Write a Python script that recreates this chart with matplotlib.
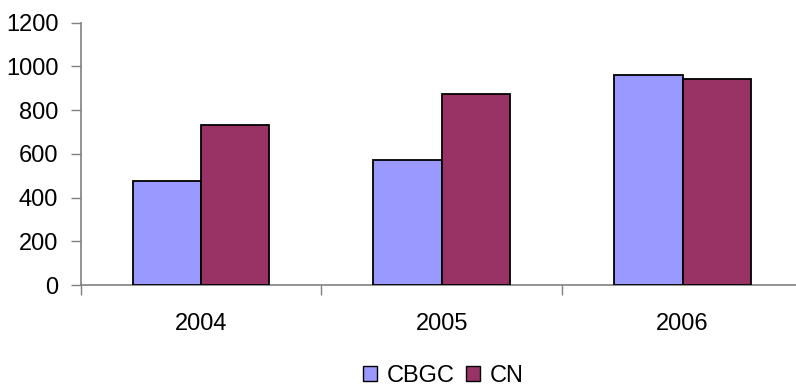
import matplotlib
matplotlib.use("Agg")
import matplotlib.pyplot as plt
import numpy as np
from matplotlib.patches import Patch

categories = ["2004", "2005", "2006"]
cbgc = [477, 572, 961]
cn = [732, 874, 944]
yticks = [0, 200, 400, 600, 800, 1000, 1200]

plt.rcParams['font.family'] = ['Liberation Sans', 'DejaVu Sans']

W, H = 796, 388
fig = plt.figure(figsize=(W/100, H/100), dpi=100)
left, right = 80.5, 803
bottom, top = 285, 22.7
ax = fig.add_axes([left/W, 1-bottom/H, (right-left)/W, (bottom-top)/H])

x = np.arange(len(categories))
bw = 0.284
ax.bar(x - bw/2, cbgc, bw, color="#9999FF", edgecolor="black", linewidth=1.3, label="CBGC", zorder=3)
ax.bar(x + bw/2, cn, bw, color="#993366", edgecolor="black", linewidth=1.3, label="CN", zorder=3)

fs = 17
ax.set_xlim(-0.5, len(categories) - 0.5)
ax.set_ylim(0, 1200)
ax.set_yticks(yticks)
ax.set_yticklabels([str(v) for v in yticks], fontsize=fs)
ax.set_xticks(x)
ax.set_xticklabels(categories, fontsize=fs)
ax.set_xticks(np.arange(-0.5, len(categories), 1.0), minor=True)
ax.tick_params(axis='x', which='major', length=0, pad=20)
ax.tick_params(axis='x', which='minor', length=7, color="#808080", width=1, direction='out')
ax.tick_params(axis='y', length=7, color="#808080", width=1, direction='out', pad=9)

for s in ["top", "right"]:
    ax.spines[s].set_visible(False)
for s in ["left", "bottom"]:
    ax.spines[s].set_color("#808080")
    ax.spines[s].set_linewidth(1.2)

handles = [Patch(facecolor="#9999FF", edgecolor="black", label="CBGC"),
           Patch(facecolor="#993366", edgecolor="black", label="CN")]
fig.legend(handles=handles, loc="center", bbox_to_anchor=(0.557, 0.031), ncol=2,
           frameon=False, fontsize=fs, handlelength=0.6, handleheight=0.6,
           handletextpad=0.4, columnspacing=0.5)

fig.savefig("out.png", dpi=100)
